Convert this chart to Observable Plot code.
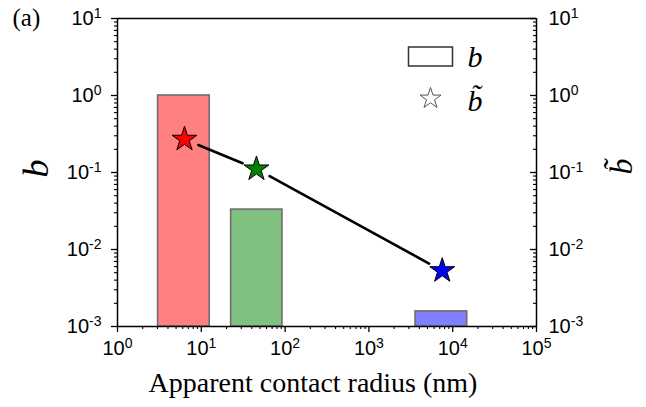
<!DOCTYPE html>
<html>
<head>
<meta charset="utf-8">
<script src="https://cdn.jsdelivr.net/npm/d3@7"></script>
<script src="https://cdn.jsdelivr.net/npm/@observablehq/plot@0.6"></script>
<style>
  html, body { margin: 0; padding: 0; background: #fff; }
  #chart { width: 646px; height: 407px; }
</style>
</head>
<body>
<div id="chart"></div>
<script>
// ---- data ----
const barNames = ["small", "medium", "large"];
const barX1 = [3.05, 22.7, 3600];
const barX2 = [12.6, 93, 14900];
const barB = [1.0, 0.033, 0.00157];
const barColors = ["#ff8080", "#80c080", "#8080ff"];

const starX = [6.3, 45.5, 7500];
const starB = [0.27, 0.111, 0.0053];
const starColors = ["#ff0000", "#008000", "#0000ff"];

const decadesX = [1, 10, 100, 1000, 10000, 100000];
const decadesY = [0.001, 0.01, 0.1, 1, 10];
const minorMult = [2, 3, 4, 5, 6, 7, 8, 9];

const xTitle = "Apparent contact radius (nm)";
const yTitle = "b";
const y2Title = "b\u0303";
const panelLabel = "(a)";
const legendLabels = ["b", "b\u0303"];

// ---- derived tables ----
const bars = barNames.map((n, i) => ({name: n, x1: barX1[i], x2: barX2[i], b: barB[i], color: barColors[i]}));
const stars = starX.map((x, i) => ({x, b: starB[i], color: starColors[i]}));
const segs = d3.pairs(stars);
const minorX = decadesX.slice(0, -1).flatMap(d => minorMult.map(m => d * m));
const minorY = decadesY.slice(0, -1).flatMap(d => minorMult.map(m => d * m));
const fmt = d => "10^" + Math.round(Math.log10(d));

const serif = "'Liberation Serif', 'Times New Roman', serif";
const sans = "'Liberation Sans', Arial, sans-serif";

const rectSymbol = { draw(ctx) { ctx.rect(-22, -9.5, 44, 19); } };
const txt = { textAnchor: "middle", lineAnchor: "middle", fill: "#000" };

const plot = Plot.plot({
  width: 646,
  height: 407,
  marginLeft: 117,
  marginRight: 110,
  marginTop: 18,
  marginBottom: 81,
  style: { fontFamily: sans, fontSize: "20px", color: "#000", background: "#fff" },
  x: { type: "log", domain: [1, 1e5] },
  y: { type: "log", domain: [1e-3, 10] },
  marks: [
    // bars
    Plot.rect(bars, { x1: "x1", x2: "x2", y1: () => 1e-3, y2: "b", fill: "color", stroke: "#6e6e6e", strokeWidth: 1.6 }),
    // connecting line with gaps at the stars
    Plot.arrow(segs, {
      x1: d => d[0].x, y1: d => d[0].b, x2: d => d[1].x, y2: d => d[1].b,
      headLength: 0, insetStart: 15, insetEnd: 15, stroke: "#000", strokeWidth: 2.6, bend: 0
    }),
    // stars
    Plot.dot(stars, { x: "x", y: "b", symbol: "star", r: 7.8, fill: "color", stroke: "#000", strokeWidth: 1 }),
    // frame lines
    Plot.ruleY([10], { stroke: "#000", strokeWidth: 1.5 }),
    Plot.ruleY([1e-3], { stroke: "#000", strokeWidth: 1.5 }),
    Plot.ruleX([1], { stroke: "#000", strokeWidth: 1.5 }),
    Plot.ruleX([1e5], { stroke: "#000", strokeWidth: 1.5 }),
    // left axis
    Plot.axisY({ anchor: "left", ticks: decadesY, tickSize: 6, tickPadding: 10, tickFormat: fmt, label: null, strokeWidth: 1.3 }),
    Plot.axisY({ anchor: "left", ticks: minorY, tickSize: 3, tickFormat: () => "", label: null, strokeWidth: 1.1 }),
    // right axis labels + inward ticks
    Plot.axisY({ anchor: "right", ticks: decadesY, tickSize: 0, tickPadding: 12, tickFormat: fmt, label: null }),
    Plot.ruleY(decadesY, { stroke: "#000", strokeWidth: 1.3, insetLeft: 413 }),
    Plot.ruleY(minorY, { stroke: "#000", strokeWidth: 1.1, insetLeft: 416 }),
    // bottom axis
    Plot.axisX({ anchor: "bottom", ticks: decadesX, tickSize: 6, tickPadding: 8, tickFormat: fmt, label: null, strokeWidth: 1.3 }),
    Plot.axisX({ anchor: "bottom", ticks: minorX, tickSize: 3, tickFormat: () => "", label: null, strokeWidth: 1.1 }),
    // titles
    Plot.text([xTitle], { frameAnchor: "bottom", dx: -14, dy: 65, textAnchor: "middle", lineAnchor: "bottom", fill: "#000", fontFamily: serif, fontSize: 28 }),
    Plot.text([yTitle], { ...txt, frameAnchor: "top-left", dx: -81, dy: 150, rotate: -90, fontFamily: serif, fontStyle: "italic", fontSize: 36 }),
    Plot.text([y2Title], { ...txt, frameAnchor: "top-right", dx: 85, dy: 148, rotate: -90, fontFamily: serif, fontStyle: "italic", fontSize: 32 }),
    Plot.text([panelLabel], { frameAnchor: "top-left", dx: -105, dy: -10, textAnchor: "start", lineAnchor: "top", fill: "#000", fontFamily: serif, fontSize: 25 }),
    // legend
    Plot.dot([legendLabels[0]], { frameAnchor: "top-right", dx: -106, dy: 38, symbol: rectSymbol, fill: "none", stroke: "#333", strokeWidth: 1.5 }),
    Plot.dot([legendLabels[1]], { frameAnchor: "top-right", dx: -106, dy: 80, symbol: "star", r: 6.6, fill: "none", stroke: "#555", strokeWidth: 1 }),
    Plot.text([legendLabels[0]], { ...txt, frameAnchor: "top-right", dx: -69, dy: 39, textAnchor: "start", fontFamily: serif, fontStyle: "italic", fontSize: 30 }),
    Plot.text([legendLabels[1]], { ...txt, frameAnchor: "top-right", dx: -69, dy: 83, textAnchor: "start", fontFamily: serif, fontStyle: "italic", fontSize: 30 })
  ]
});

// superscript exponents in tick labels
plot.querySelectorAll("text").forEach(t => {
  const m = /^10\^(-?\d+)$/.exec(t.textContent);
  if (!m) return;
  t.textContent = "10";
  const ts = document.createElementNS("http://www.w3.org/2000/svg", "tspan");
  ts.setAttribute("dy", "-0.5em");
  ts.setAttribute("font-size", "0.7em");
  ts.textContent = m[1];
  t.appendChild(ts);
});

document.getElementById("chart").appendChild(plot);
</script>
</body>
</html>
